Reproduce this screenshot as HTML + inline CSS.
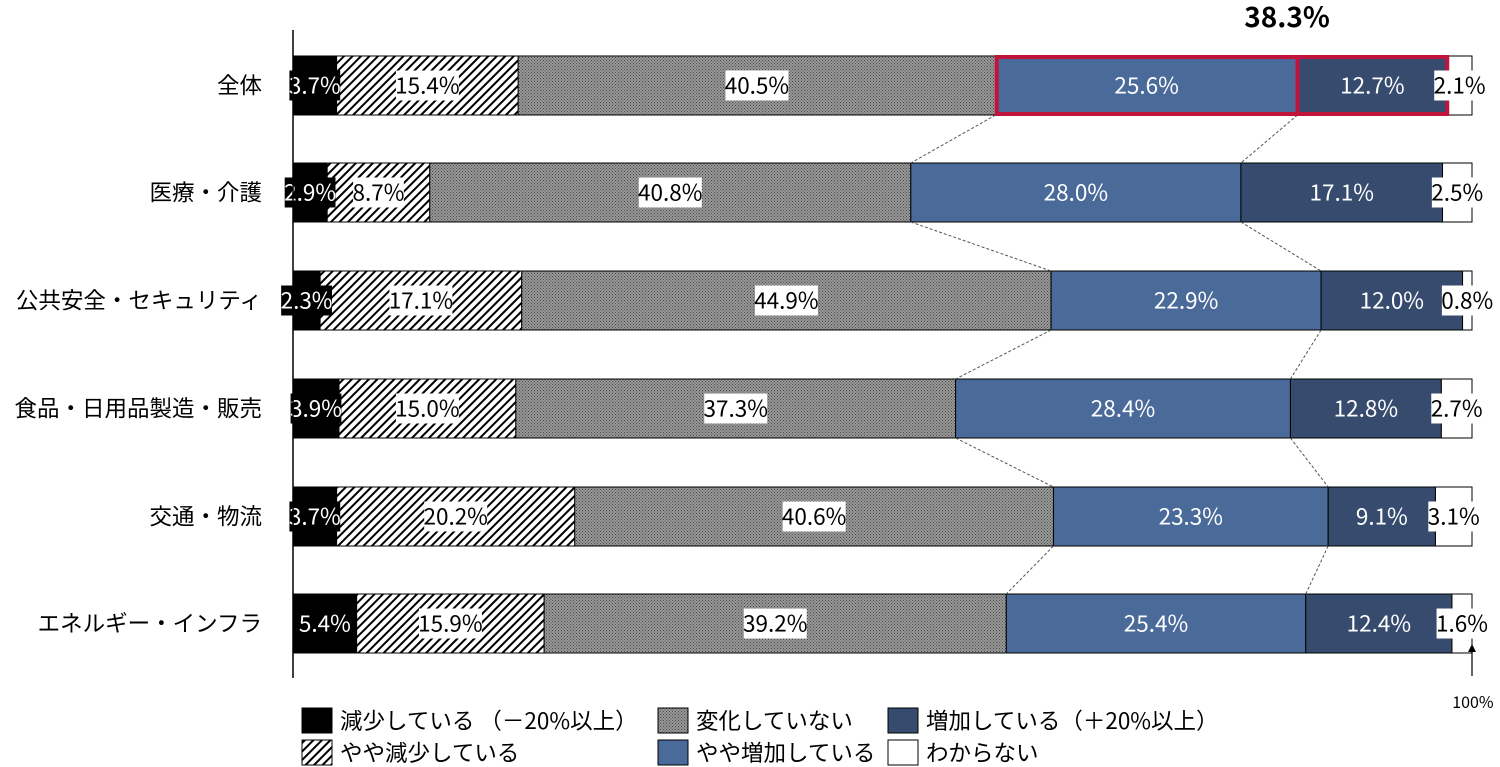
<!DOCTYPE html>
<html><head><meta charset="utf-8"><style>
html,body{margin:0;padding:0;background:#fff;}
svg{display:block;font-family:"Noto Sans CJK JP","Liberation Sans",sans-serif;}
</style></head><body>
<svg id="s" width="1500" height="767" xmlns="http://www.w3.org/2000/svg">
<defs>
<pattern id="hatch" width="6" height="6" patternUnits="userSpaceOnUse" patternTransform="rotate(45)">
<rect width="6" height="6" fill="#fff"/><rect width="2" height="6" fill="#000"/></pattern>
<pattern id="dots" width="3" height="3" patternUnits="userSpaceOnUse">
<rect width="3" height="3" fill="#999"/><rect width="1" height="1" fill="#4a4a4a"/><rect x="1.5" y="1.5" width="1" height="1" fill="#4a4a4a"/></pattern>
</defs>
</svg>
<script>
const s=document.getElementById('s');const NS='http://www.w3.org/2000/svg';
function el(t,a,txt){const e=document.createElementNS(NS,t);for(const k in a)e.setAttribute(k,a[k]);if(txt!==undefined)e.textContent=txt;s.appendChild(e);return e;}
const X0=293,W=1179,x=p=>X0+W*p/100,FS=22.5;
const rows=[["全体",[3.7,15.4,40.5,25.6,12.7,2.1]],["医療・介護",[2.9,8.7,40.8,28.0,17.1,2.5]],["公共安全・セキュリティ",[2.3,17.1,44.9,22.9,12.0,0.8]],["食品・日用品製造・販売",[3.9,15.0,37.3,28.4,12.8,2.7]],["交通・物流",[3.7,20.2,40.6,23.3,9.1,3.1]],["エネルギー・インフラ",[5.4,15.9,39.2,25.4,12.4,1.6]]];
const Y=[56,163,271,379,487,594],H=59;
const fills=['#000','url(#hatch)','url(#dots)','#4a6a9a','#364b6d','#fff'];
const cums=[];
rows.forEach((r,i)=>{let c=0;const cs=[0];r[1].forEach(v=>{c+=v;cs.push(c);});cs[6]=100;cums.push(cs);
 el('text',{x:262,y:Y[i]+H/2+8,'text-anchor':'end','font-size':FS,fill:'#000'},r[0]);
 r[1].forEach((v,j)=>{el('rect',{x:x(cs[j]),y:Y[i],width:x(cs[j+1])-x(cs[j]),height:H,fill:fills[j],stroke:'#000','stroke-width':1});});
});
for(let i=0;i<5;i++){[3,4].forEach(k=>{const a=cums[i][k],b=cums[i+1][k];el('line',{x1:x(a),y1:Y[i]+H,x2:x(b),y2:Y[i+1],stroke:'#555','stroke-width':1,'stroke-dasharray':'3,2'});});}
el('rect',{x:x(59.6)+1,y:Y[0]+1,width:x(97.9)-x(59.6)-1,height:H-2,fill:'none',stroke:'#c0143c','stroke-width':4});
el('line',{x1:x(85.2),y1:Y[0],x2:x(85.2),y2:Y[0]+H,stroke:'#c0143c','stroke-width':4});
rows.forEach((r,i)=>{const cs=cums[i];r[1].forEach((v,j)=>{const cx=(x(cs[j])+x(cs[j+1]))/2;const t=v.toFixed(1)+'%';const ty=Y[i]+H/2+8;const w=t.length*12.2+2;
 if(j==0){if(v<5){el('rect',{x:cx-w/2,y:ty-23,width:w,height:30,fill:'#000'});}el('text',{x:cx,y:ty,'text-anchor':'middle','font-size':FS,fill:'#fff'},t);}
 else if(j==3||j==4){el('text',{x:cx,y:ty,'text-anchor':'middle','font-size':FS,fill:'#fff'},t);}
 else{el('rect',{x:cx-w/2,y:ty-23,width:w,height:30,fill:'#fff'});el('text',{x:cx,y:ty,'text-anchor':'middle','font-size':FS,fill:'#000'},t);}
});});
el('line',{x1:X0,y1:30,x2:X0,y2:678,stroke:'#000','stroke-width':1.5});
el('text',{x:1287,y:27,'text-anchor':'middle','font-size':28,'font-weight':'bold',fill:'#000'},'38.3%');
el('line',{x1:1472,y1:676,x2:1472,y2:650,stroke:'#000','stroke-width':1.2});
el('path',{d:'M1468,652 L1472,644 L1476,652 Z',fill:'#000'});
el('text',{x:1473,y:708,'text-anchor':'middle','font-size':16,fill:'#000'},'100%');
const L=[[302,708,0,'減少している （－20%以上）'],[302,740,1,'やや減少している'],[658,708,2,'変化していない'],[658,740,3,'やや増加している'],[888,708,4,'増加している（＋20%以上）'],[888,740,5,'わからない']];
L.forEach(l=>{el('rect',{x:l[0],y:l[1],width:30,height:25,fill:fills[l[2]],stroke:'#000','stroke-width':1});el('text',{x:l[0]+38,y:l[1]+21,'font-size':FS,fill:'#000'},l[3]);});
</script>
</body></html>
